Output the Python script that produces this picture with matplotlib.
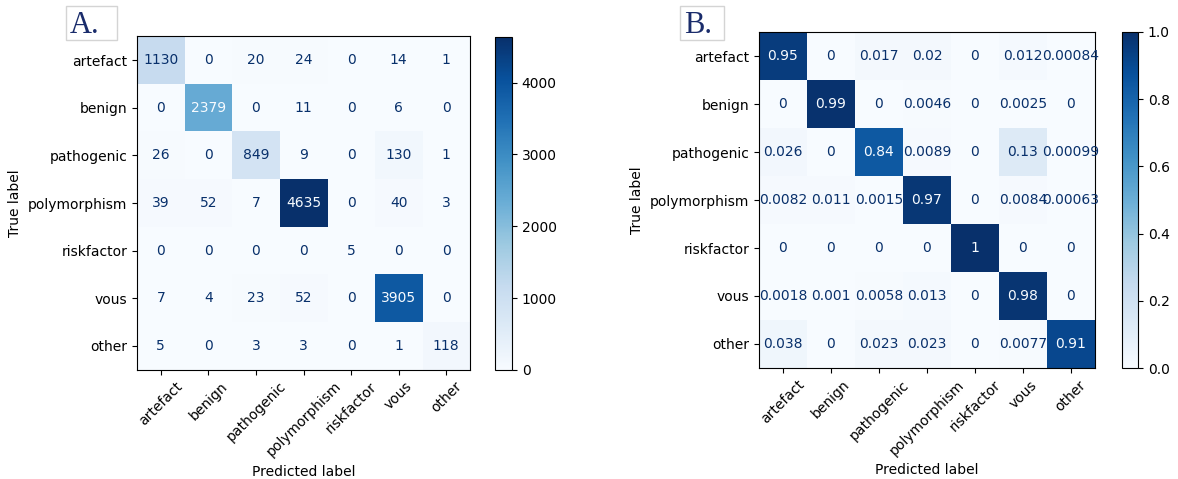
import numpy as np
import matplotlib
matplotlib.use("Agg")
import matplotlib.pyplot as plt
from matplotlib.patches import Rectangle

labels = ["artefact", "benign", "pathogenic", "polymorphism", "riskfactor", "vous", "other"]

counts = [
    [1130, 0, 20, 24, 0, 14, 1],
    [0, 2379, 0, 11, 0, 6, 0],
    [26, 0, 849, 9, 0, 130, 1],
    [39, 52, 7, 4635, 0, 40, 3],
    [0, 0, 0, 0, 5, 0, 0],
    [7, 4, 23, 52, 0, 3905, 0],
    [5, 0, 3, 3, 0, 1, 118],
]

normalized = [
    [0.95, 0, 0.017, 0.02, 0, 0.012, 0.00084],
    [0, 0.99, 0, 0.0046, 0, 0.0025, 0],
    [0.026, 0, 0.84, 0.0089, 0, 0.13, 0.00099],
    [0.0082, 0.011, 0.0015, 0.97, 0, 0.0084, 0.00063],
    [0, 0, 0, 0, 1, 0, 0],
    [0.0018, 0.001, 0.0058, 0.013, 0, 0.98, 0],
    [0.038, 0, 0.023, 0.023, 0, 0.0077, 0.91],
]

cmap = plt.cm.Blues
W, H = 1178, 479
fig = plt.figure(figsize=(W / 100, H / 100), dpi=100)


def draw_cm(ax_rect, cbar_rect, data, fmt, vmax):
    data = np.array(data, dtype=float)
    ax = fig.add_axes(ax_rect)
    im = ax.imshow(data, cmap=cmap, vmin=0, vmax=vmax, interpolation="nearest")
    thresh = (data.max() + data.min()) / 2.0
    cmin, cmax = cmap(0.0), cmap(1.0)
    n = len(labels)
    for i in range(n):
        for j in range(n):
            color = cmin if data[i, j] > thresh else cmax
            ax.text(j, i, format(data[i, j], fmt), ha="center", va="center",
                    color=color, fontsize=10)
    ax.set_xticks(range(n))
    ax.set_yticks(range(n))
    ax.set_xticklabels(labels, rotation=45, ha="center")
    ax.set_yticklabels(labels)
    ax.set_xlabel("Predicted label")
    ax.set_ylabel("True label")
    ax.tick_params(labelsize=10)
    cax = fig.add_axes(cbar_rect)
    fig.colorbar(im, cax=cax)
    cax.tick_params(labelsize=10)
    return ax


draw_cm([0.1163, 0.2276, 0.2827, 0.6972], [0.4202, 0.2276, 0.0144, 0.6952],
        counts, ".0f", max(max(r) for r in counts))
draw_cm([0.6443, 0.2296, 0.2852, 0.7057], [0.9525, 0.2317, 0.0136, 0.7015],
        normalized, ".2g", 1.0)

# panel labels in light grey boxes (pixel coords from top-left)
for name, x0, x1, tx in [("A.", 66, 117, 70), ("B.", 680, 724, 684)]:
    fig.patches.append(Rectangle((x0 / W, 1 - 40 / H), (x1 - x0) / W, 34 / H,
                                 transform=fig.transFigure, facecolor="white",
                                 edgecolor="#d4d4d4", linewidth=1))
    fig.text(tx / W, 1 - 33 / H, name, fontsize=22, family="Liberation Serif",
             color="#1a2c6b", ha="left", va="baseline")

fig.savefig("out.png", dpi=100)
